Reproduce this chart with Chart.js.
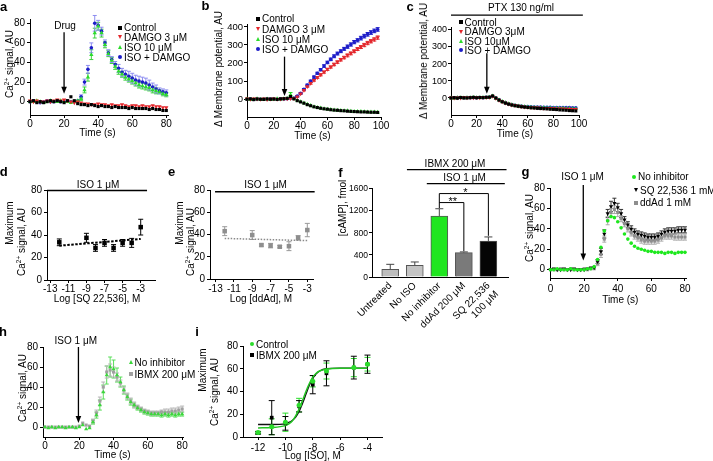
<!DOCTYPE html>
<html>
<head>
<meta charset="utf-8">
<script src="https://cdn.jsdelivr.net/npm/chart.js@4.4.1/dist/chart.umd.min.js"></script>
<style>
  body { margin: 0; width: 713px; height: 461px; position: relative; overflow: hidden; background: #fff;
         font-family: "Liberation Sans", Arial, sans-serif; color: #000; }
  canvas { position: absolute; z-index: 1; }
  .t { position: absolute; z-index: 2; font-size: 10px; line-height: 1; white-space: nowrap; transform: translate(-50%, -50%); }
  .l { transform: translate(0, -50%); }
  .r { transform: translate(-100%, -50%); z-index: 3; }
  .v { transform: translate(-50%, -50%) rotate(-90deg); }
  .p { font-weight: bold; font-size: 13px; }
  .s { font-size: 11px; }
  sup { font-size: 6.5px; line-height: 0; vertical-align: 4px; }
  .m { display: inline-block; vertical-align: middle; margin-right: 2px; position: relative; top: -1px; }
  .sq { width: 4px; height: 4px; background: currentColor; }
  .ci { width: 4px; height: 4px; border-radius: 50%; background: currentColor; }
  .tu { width: 0; height: 0; border-left: 2.5px solid transparent; border-right: 2.5px solid transparent; border-bottom: 4px solid currentColor; }
  .td { width: 0; height: 0; border-left: 2.5px solid transparent; border-right: 2.5px solid transparent; border-top: 4px solid currentColor; }
</style>
</head>
<body>
<!-- panel letters -->
<div class="t p" style="left:3.5px;top:5.5px">a</div>
<div class="t p" style="left:205.5px;top:5px">b</div>
<div class="t p" style="left:410px;top:5.5px">c</div>
<div class="t p" style="left:3.7px;top:171px">d</div>
<div class="t p" style="left:171.7px;top:171px">e</div>
<div class="t p" style="left:340.5px;top:172px">f</div>
<div class="t p" style="left:525.5px;top:170.5px">g</div>
<div class="t p" style="left:3px;top:331px">h</div>
<div class="t p" style="left:197px;top:331px">i</div>

<!-- y titles -->
<div class="t v" style="left:9.5px;top:64px">Ca<sup>2+</sup> signal, AU</div>
<div class="t v" style="left:218.5px;top:69px">Δ Membrane potential, AU</div>
<div class="t v" style="left:424px;top:61px">Δ Membrane potential, AU</div>
<div class="t v" style="left:10.3px;top:223px">Maximum</div>
<div class="t v" style="left:21.7px;top:242px">Ca<sup>2+</sup> signal, AU</div>
<div class="t v" style="left:180px;top:223px">Maximum</div>
<div class="t v" style="left:191px;top:242px">Ca<sup>2+</sup> signal, AU</div>
<div class="t v" style="left:343px;top:208px">[cAMP], fmol</div>
<div class="t v" style="left:530.3px;top:228px">Ca<sup>2+</sup> signal, AU</div>
<div class="t v" style="left:22.5px;top:388px">Ca<sup>2+</sup> signal, AU</div>
<div class="t v" style="left:203px;top:370px">Maximum</div>
<div class="t v" style="left:215px;top:392px">Ca<sup>2+</sup> signal, AU</div>

<!-- x titles -->
<div class="t" style="left:97.5px;top:133px">Time (s)</div>
<div class="t" style="left:312.5px;top:135.5px">Time (s)</div>
<div class="t" style="left:515px;top:133.7px">Time (s)</div>
<div class="t" style="left:97px;top:299px">Log [SQ 22,536], M</div>
<div class="t" style="left:261px;top:299px">Log [ddAd], M</div>
<div class="t" style="left:620.3px;top:300.3px">Time (s)</div>
<div class="t" style="left:112.5px;top:455px">Time (s)</div>
<div class="t" style="left:312.8px;top:455.5px">Log [ISO], M</div>

<!-- headers and notes -->
<div class="t" style="left:65px;top:25.5px">Drug</div>
<div class="t" style="left:521px;top:7.5px">PTX 130 ng/ml</div>
<div class="t" style="left:98px;top:184.5px">ISO 1 μM</div>
<div class="t" style="left:265.5px;top:184.5px">ISO 1 μM</div>
<div class="t" style="left:455px;top:164px">IBMX 200 μM</div>
<div class="t" style="left:464.5px;top:178.3px">ISO 1 μM</div>
<div class="t" style="left:582.5px;top:177px">ISO 1 μM</div>
<div class="t" style="left:75.8px;top:341.2px">ISO 1 μM</div>
<div class="t s" style="left:452.8px;top:201px">**</div>
<div class="t s" style="left:465.3px;top:192px">*</div>

<!-- legends -->
<div class="t l" style="left:118px;top:28.3px"><i class="m sq" style="color:#000"></i>Control</div>
<div class="t l" style="left:118px;top:37.7px"><i class="m td" style="color:#e3262b"></i>DAMGO 3 μM</div>
<div class="t l" style="left:118px;top:47.7px"><i class="m tu" style="color:#2bdc2b"></i>ISO 10 μM</div>
<div class="t l" style="left:118px;top:57.7px"><i class="m ci" style="color:#1c1cc8"></i>ISO + DAMGO</div>

<div class="t l" style="left:256px;top:19.3px"><i class="m sq" style="color:#000"></i>Control</div>
<div class="t l" style="left:256px;top:30px"><i class="m td" style="color:#e3262b"></i>DAMGO 3 μM</div>
<div class="t l" style="left:256px;top:40px"><i class="m tu" style="color:#2bdc2b"></i>ISO 10 μM</div>
<div class="t l" style="left:256px;top:50px"><i class="m ci" style="color:#1c1cc8"></i>ISO + DAMGO</div>

<div class="t l" style="left:458.5px;top:22.7px"><i class="m sq" style="color:#000"></i>Control</div>
<div class="t l" style="left:458.5px;top:32.3px"><i class="m td" style="color:#e3262b"></i>DAMGO 3μM</div>
<div class="t l" style="left:458.5px;top:41.7px"><i class="m tu" style="color:#2bdc2b"></i>ISO 10μM</div>
<div class="t l" style="left:458.5px;top:51px"><i class="m ci" style="color:#1c1cc8"></i>ISO + DAMGO</div>

<div class="t l" style="left:632px;top:177.3px"><i class="m ci" style="color:#1ee81e"></i>No inhibitor</div>
<div class="t l" style="left:634px;top:190.7px"><i class="m td" style="color:#000"></i>SQ 22,536 1 mM</div>
<div class="t l" style="left:634px;top:203.3px"><i class="m sq" style="color:#8e8e8e"></i>ddAd 1 mM</div>

<div class="t l" style="left:128.5px;top:362.7px"><i class="m tu" style="color:#3ad83a"></i>No inhibitor</div>
<div class="t l" style="left:128.5px;top:375px"><i class="m sq" style="color:#a0a0a0"></i>IBMX 200 μM</div>

<div class="t l" style="left:250px;top:345px"><i class="m ci" style="color:#2bdc2b"></i>Control</div>
<div class="t l" style="left:250px;top:356px"><i class="m sq" style="color:#000"></i>IBMX 200 μM</div>

<!-- y tick labels of the wide-number axes (b, c, f) -->
<div class="t r" style="left:243px;top:99.2px;font-size:9.5px">0</div>
<div class="t r" style="left:243px;top:81.1px;font-size:9.5px">100</div>
<div class="t r" style="left:243px;top:63px;font-size:9.5px">200</div>
<div class="t r" style="left:243px;top:44.8px;font-size:9.5px">300</div>
<div class="t r" style="left:243px;top:26.7px;font-size:9.5px">400</div>
<div class="t r" style="left:447px;top:98px;font-size:9px">0</div>
<div class="t r" style="left:447px;top:80.7px;font-size:9px">100</div>
<div class="t r" style="left:447px;top:63.5px;font-size:9px">200</div>
<div class="t r" style="left:447px;top:46.3px;font-size:9px">300</div>
<div class="t r" style="left:447px;top:29px;font-size:9px">400</div>
<div class="t r" style="left:368px;top:277px;font-size:8.5px">0</div>
<div class="t r" style="left:368px;top:254.8px;font-size:8.5px">400</div>
<div class="t r" style="left:368px;top:232.5px;font-size:8.5px">800</div>
<div class="t r" style="left:368px;top:210.3px;font-size:8.5px">1200</div>
<div class="t r" style="left:368px;top:188px;font-size:8.5px">1600</div>

<script>
// ---- data ----
const T_80 = [0,2,4,6,8,10,12,14,16,18,20,22,24,26,28,30,32,34,36,38,40,42,44,46,48,50,52,54,56,58,60,62,64,66,68,70,72,74,76,78,80];
const T_100 = [0,2.5,5,7.5,10,12.5,15,17.5,20,22.5,25,27.5,30,32.5,35,37.5,40,42.5,45,47.5,50,52.5,55,57.5,60,62.5,65,67.5,70,72.5,75,77.5,80,82.5,85,87.5,90,92.5,95,97.5];

// a: Ca2+ signal vs time
const A_CONTROL = [0,1,-1,0,-1,0,1,0,1,0,-1,1,5,1,-2,-3,-3,-4,-3,-4,-5,-4,-5,-5,-6,-5,-6,-6,-6,-7,-6,-7,-7,-7,-7,-8,-7,-8,-8,-9,-9];
const A_DAMGO = [1,0,1,0,0,1,0,1,2,1,2,1,0,-1,0,-1,-2,-2,-3,-3,-2,-3,-3,-4,-3,-4,-4,-3,-4,-5,-4,-4,-5,-4,-5,-5,-4,-5,-5,-6,-6];
const A_ISO = [0,0,1,0,-1,0,1,0,0,1,0,0,-1,0,1,3,12,25,48,70,77,70,58,49,42,36,31,28,25,23,21,19,17,16,15,14,12,11,10,8,7];
const A_ISO_ERR = [0,0,0,0,0,0,0,0,0,0,0,0,0,0,0,2,3,4,5,5,4,4,3,3,3,3,3,3,3,3,3,3,3,3,3,3,3,3,2,2,2];
const A_BOTH = [0,1,0,-1,0,1,0,0,1,0,0,1,0,0,1,5,20,33,55,80,78,72,60,50,43,38,34,30,28,26,24,22,21,20,19,17,15,13,11,10,9];
const A_BOTH_ERR = [0,0,0,0,0,0,0,0,0,0,0,0,0,0,0,2,3,4,5,8,5,4,3,3,3,3,4,4,4,5,5,5,5,5,5,5,4,4,3,3,3];

// b: membrane potential
const B_CONTROL = [0,2,-2,1,0,-1,2,0,1,-1,2,3,5,15,2,-8,-15,-22,-30,-36,-42,-46,-50,-53,-55,-58,-60,-61,-63,-64,-66,-67,-68,-69,-70,-70,-71,-72,-72,-73];
const B_DAMGO = [2,0,3,1,0,2,-1,1,2,0,1,3,2,4,4,14,30,50,70,88,105,120,135,150,165,178,192,205,218,230,242,253,265,277,288,299,310,320,330,340];
const B_DAMGO_ERR = [0,0,0,0,0,0,0,0,0,0,0,0,0,0,2,3,3,4,4,5,5,5,6,6,6,6,7,7,7,7,8,8,8,8,8,9,9,9,9,9];
const B_ISO = [1,-1,0,2,-2,0,1,-1,0,2,0,2,4,25,3,-6,-14,-21,-28,-35,-41,-46,-49,-52,-55,-57,-59,-61,-62,-63,-64,-66,-67,-68,-68,-69,-70,-71,-71,-72];
const B_ISO_ERR = [0,0,0,0,0,0,0,0,0,0,0,0,0,12,0,0,0,0,0,0,0,0,0,0,0,0,0,0,0,0,0,0,0,0,0,0,0,0,0,0];
const B_BOTH = [0,1,-1,2,0,1,0,2,1,0,2,1,3,5,7,17,33,55,78,100,122,143,163,183,203,220,237,252,265,278,290,302,315,325,337,348,358,368,377,385];
const B_BOTH_ERR = [0,0,0,0,0,0,0,0,0,0,0,0,0,0,2,3,4,4,5,5,6,6,6,7,7,7,8,8,8,8,9,9,9,9,10,10,10,10,10,10];

// c: membrane potential with PTX
const C_CONTROL = [0,2,-1,3,1,0,2,4,1,3,2,4,5,12,0,-12,-22,-30,-36,-41,-45,-48,-51,-53,-55,-57,-58,-60,-61,-62,-63,-65,-66,-67,-69,-70,-71,-73,-74,-75];
const C_DAMGO = [1,0,2,0,3,1,2,1,3,2,4,3,4,10,-2,-13,-22,-29,-35,-40,-44,-47,-50,-52,-53,-55,-56,-57,-58,-59,-60,-60,-61,-62,-62,-63,-64,-64,-65,-65];
const C_ISO = [0,-1,1,2,0,2,1,3,2,1,3,2,5,11,-1,-12,-21,-28,-34,-39,-43,-46,-49,-51,-52,-54,-55,-56,-57,-57,-58,-58,-59,-59,-60,-60,-61,-61,-62,-62];
const C_BOTH = [1,0,2,1,0,3,2,1,2,3,2,4,4,10,-1,-11,-20,-27,-33,-38,-42,-45,-47,-49,-50,-51,-52,-53,-53,-54,-54,-54,-55,-55,-55,-56,-56,-56,-57,-57];

// d, e: maximum signal vs inhibitor concentration
const LOG_DOSE = [-12,-9,-8,-7,-6,-5,-4,-3];
const D_MAX = [33.5,37.5,28.5,33,28.5,33,33,47];
const D_ERR = [3,4,3,3,3,3,4,7];
const E_MAX = [43,39.5,30.5,30,29,29.5,37,44];
const E_ERR = [4,4,1,2,1,4,2,6];
const FIT_ENDS = [-12,-3];
const D_FIT = [30.5,36.5];
const E_FIT = [36.5,34.5];

// f: cAMP
const F_CATS = ['Untreated','No ISO','No inhibitor','ddAd 200 μM',['SQ 22,536','100 μM']];
const F_VALS = [138,210,1097,439,648];
const F_ERR = [90,60,130,12,72];
const F_COLORS = ['#bdbdbd','#c4c4c4','#1fe61f','#7a7a7a','#050505'];

// g: inhibitors
const G_NONE = [0,0,1,0,0,0,1,0,0,0,0,1,1,3,10,22,38,48,52,51,47,41,35,30,26,23,21,20,19,18,18,17,17,17,16,17,17,16,17,17,17];
const G_SQ = [0,1,0,0,1,0,0,1,0,0,0,1,2,2,8,18,35,55,62,65,61,55,49,44,40,37,35,34,33,32,32,32,33,35,37,38,38,38,39,39,39];
const G_SQ_ERR = [0,0,0,0,0,0,0,0,0,0,0,0,0,0,2,3,4,4,5,5,4,4,3,3,3,3,3,3,3,3,3,3,3,3,3,3,3,3,3,3,3];
const G_DDAD = [0,0,0,1,0,0,1,0,0,0,1,0,1,1,6,15,30,48,56,59,56,50,45,40,36,33,31,29,28,28,28,28,29,31,33,33,33,32,32,32,32];
const G_DDAD_ERR = [0,0,0,0,0,0,0,0,0,0,0,0,0,0,2,3,3,4,4,4,4,3,3,3,3,3,3,3,3,3,3,3,3,3,3,3,3,3,3,3,3];

// h: IBMX
const H_NONE = [0,-1,0,-1,0,0,-1,0,0,-1,0,2,-2,-1,5,12,22,35,52,60,58,52,45,37,30,25,22,19,17,15,14,13,13,13,12,13,12,13,12,13,13];
const H_NONE_ERR = [0,0,0,0,0,0,0,0,0,0,0,0,0,0,2,3,5,7,9,10,9,7,5,4,3,3,2,2,2,2,2,2,2,2,2,2,2,2,2,2,2];
const H_IBMX = [0,0,0,0,0,0,0,0,0,0,1,4,2,1,6,14,26,40,55,57,55,50,44,37,31,26,22,20,18,16,15,14,14,14,15,15,15,16,16,17,18];
const H_IBMX_ERR = [0,0,0,0,0,0,0,0,0,0,0,0,0,0,2,3,4,5,6,6,5,4,3,3,3,3,3,2,2,2,2,2,2,2,2,3,3,3,3,3,3];

// i: ISO dose response
const I_X = [-12,-11,-10,-9,-8,-7,-5,-4];
const I_CTRL = [4,9,13,28,49,58,61,64];
const I_CTRL_ERR = [1,7,8,6,5,7,8,6];
const I_IBMX = [3.5,17,12,27,46,56,61,64];
const I_IBMX_ERR = [1,15,6,5,8,11,10,8];
const I_FIT_X = [-12,-11,-10,-9.75,-9.5,-9.25,-9,-8.75,-8.5,-8.25,-8,-7.75,-7.5,-7,-6,-5,-4];
const I_CTRL_FIT = [8,8.3,10,11.5,14,18.5,24.5,32,40,47,52.5,56,58,59.8,60.5,60.5,60.5];
const I_IBMX_FIT = [11,11,11.8,12.8,14.5,17.5,22.5,29.5,37.5,45.5,51.5,55.5,58,60,60.5,60.5,60.5];

const TICKS_80 = [0,20,40,60,80];
const TICKS_100 = [0,20,40,60,80,100];
const TICKS_MV = [0,100,200,300,400];
const TICKS_LOG_ODD = [-13,-11,-9,-7,-5,-3];
const TICKS_LOG_EVEN = [-12,-10,-8,-6,-4];
const TICKS_CAMP = [0,400,800,1200,1600];

const RED = '#e3262b', GREEN = '#2bdc2b', BLUE = '#1c1cc8', GRAY = '#8e8e8e';

// ---- chart setup ----
Chart.defaults.font.family = '"Liberation Sans", Arial, sans-serif';
Chart.defaults.font.size = 10;
Chart.defaults.color = '#000';
Chart.defaults.animation = false;
Chart.defaults.events = [];
Chart.defaults.plugins.legend.display = false;
Chart.defaults.plugins.tooltip.enabled = false;

function drawErr(chart, onTop) {
  const { ctx, scales: { x, y } } = chart;
  chart.data.datasets.forEach((ds) => {
    if (!ds.err || !!ds.upOnly !== onTop) return;
    ctx.save();
    ctx.strokeStyle = ds.errColor || ds.borderColor;
    ctx.lineWidth = 1;
    const c = ds.cap == null ? 2 : ds.cap;
    ds.data.forEach((p, i) => {
      const e = ds.err[i];
      if (!e) return;
      const px = x.getPixelForValue(p.x);
      const hi = y.getPixelForValue(p.y + e);
      const lo = y.getPixelForValue(ds.upOnly ? p.y : p.y - e);
      ctx.beginPath();
      ctx.moveTo(px, lo); ctx.lineTo(px, hi);
      ctx.moveTo(px - c, hi); ctx.lineTo(px + c, hi);
      if (!ds.upOnly) { ctx.moveTo(px - c, lo); ctx.lineTo(px + c, lo); }
      ctx.stroke();
    });
    ctx.restore();
  });
}

// error bars, arrows, header bars and brackets, all placed through the scales
const marks = {
  id: 'marks',
  beforeDatasetsDraw(chart) { drawErr(chart, false); },
  afterDatasetsDraw(chart, args, opts) {
    drawErr(chart, true);
    const { ctx, scales: { x, y } } = chart;
    ctx.save();
    ctx.strokeStyle = '#000'; ctx.fillStyle = '#000';
    for (const ln of opts.lines || []) {
      ctx.lineWidth = ln.w || 1;
      ctx.beginPath();
      ln.pts.forEach(([a, b], i) => {
        const px = x.getPixelForValue(a), py = y.getPixelForValue(b);
        if (i) ctx.lineTo(px, py); else ctx.moveTo(px, py);
      });
      ctx.stroke();
    }
    for (const a of opts.arrows || []) {
      const px = x.getPixelForValue(a.x), y0 = y.getPixelForValue(a.y0), y1 = y.getPixelForValue(a.y1);
      ctx.lineWidth = 1.3;
      ctx.beginPath(); ctx.moveTo(px, y0); ctx.lineTo(px, y1 - 5); ctx.stroke();
      ctx.beginPath(); ctx.moveTo(px, y1); ctx.lineTo(px - 2.8, y1 - 7); ctx.lineTo(px + 2.8, y1 - 7); ctx.closePath(); ctx.fill();
    }
    ctx.restore();
  },
};

function axis(min, max, ticks, pad, size) {
  return {
    type: 'linear', min, max,
    afterBuildTicks: (s) => { s.ticks = ticks.map((v) => ({ value: v })); },
    grid: { drawOnChartArea: false, drawTicks: true, tickLength: 3, tickColor: '#000', tickWidth: 1 },
    border: { display: true, color: '#000', width: 1 },
    ticks: { padding: pad, autoSkip: false, maxRotation: 0, minRotation: 0, color: '#000',
      font: { size: size || 10 }, callback: (v) => String(v) },
  };
}

// y axis that keeps its tick marks; its labels are the page text next to it
function quietAxis(min, max, ticks) {
  const a = axis(min, max, ticks, 1);
  a.ticks.display = false;
  return a;
}

function pts(xs, ys) { return xs.map((x, i) => ({ x, y: ys[i] })); }

function series(xs, ys, color, style, r, extra) {
  return Object.assign({ data: pts(xs, ys), pointStyle: style, pointRadius: r, backgroundColor: color,
    borderColor: color, borderWidth: 0, clip: false }, extra || {});
}

function fitLine(xs, ys, color, width, extra) {
  return Object.assign({ data: pts(xs, ys), showLine: true, pointRadius: 0, borderColor: color,
    borderWidth: width, clip: false }, extra || {});
}

// box = plot area [left, top, right, bottom] in page pixels
function panel(box, type, datasets, x, y, notes, xh) {
  const [l, t, r, b] = box.map(Math.round);
  const yw = Math.min(40, l), pt = 30, pr = 16;
  xh = xh || 22;
  const W = r - l + yw + pr, H = b - t + pt + xh;
  const cv = document.createElement('canvas');
  cv.width = W; cv.height = H;
  cv.style.cssText = `left:${l - yw}px;top:${t - pt}px;width:${W}px;height:${H}px`;
  document.body.appendChild(cv);
  x.afterFit = (s) => { s.height = xh; };
  y.afterFit = (s) => { s.width = yw; };
  new Chart(cv, {
    type,
    data: { datasets },
    options: {
      responsive: false, maintainAspectRatio: false,
      layout: { padding: { left: 0, top: pt, right: pr, bottom: 0 } },
      scales: { x, y },
      plugins: { marks: notes || {} },
    },
    plugins: [marks],
  });
}

const DOWN = { pointRotation: 180 };

// a
panel([30, 19, 168, 115], 'scatter', [
  series(T_80, A_CONTROL, '#000', 'rect', 2.2),
  series(T_80, A_DAMGO, RED, 'triangle', 2.5, DOWN),
  series(T_80, A_ISO, GREEN, 'triangle', 2.5, { err: A_ISO_ERR, errColor: '#3bd23b' }),
  series(T_80, A_BOTH, BLUE, 'circle', 1.8, { err: A_BOTH_ERR, errColor: '#8c8cf0' }),
], axis(0, 81, TICKS_80, 0), axis(-13.6, 84.4, TICKS_80, 2), { arrows: [{ x: 20, y0: 71, y1: 8 }] });

// b
panel([246.7, 24, 381, 116.7], 'scatter', [
  series(T_100, B_CONTROL, '#000', 'rect', 2.2),
  series(T_100, B_DAMGO, RED, 'triangle', 2.5, Object.assign({ err: B_DAMGO_ERR }, DOWN)),
  series(T_100, B_ISO, GREEN, 'triangle', 2.5, { err: B_ISO_ERR }),
  series(T_100, B_BOTH, BLUE, 'circle', 1.8, { err: B_BOTH_ERR }),
], axis(0, 100, TICKS_100, 0), quietAxis(-98, 415, TICKS_MV), { arrows: [{ x: 28, y0: 235, y1: 18 }] });

// c
panel([451, 27, 579, 115], 'scatter', [
  series(T_100, C_CONTROL, '#000', 'rect', 2.2),
  series(T_100, C_DAMGO, RED, 'triangle', 2.5, DOWN),
  series(T_100, C_ISO, GREEN, 'triangle', 2.5),
  series(T_100, C_BOTH, BLUE, 'circle', 1.8),
], axis(0, 100, TICKS_100, 0), quietAxis(-98.6, 411.6, TICKS_MV), {
  arrows: [{ x: 28, y0: 260, y1: 25 }],
  lines: [{ pts: [[0, 481], [103, 481]], w: 1.3 }],
});

// d
panel([46.7, 190, 155, 280], 'scatter', [
  series(LOG_DOSE, D_MAX, '#000', 'rect', 3.2, { err: D_ERR, cap: 2.5 }),
  fitLine(FIT_ENDS, D_FIT, '#000', 2, { borderDash: [2.5, 1.5] }),
], axis(-13.36, -1.42, TICKS_LOG_ODD, 0), axis(0, 80, TICKS_80, 2), {
  lines: [{ pts: [[-13.36, 79.5], [-2.3, 79.5]], w: 1.5 }],
});

// e
panel([210, 189.5, 313, 279], 'scatter', [
  series(LOG_DOSE, E_MAX, GRAY, 'rect', 3.2, { err: E_ERR, cap: 2.5, errColor: '#999' }),
  fitLine(FIT_ENDS, E_FIT, '#8a8a8a', 1.5, { borderDash: [1.5, 1.5] }),
], axis(-13.6, -2.38, TICKS_LOG_ODD, 1), axis(0, 80, TICKS_80, 2), {
  lines: [{ pts: [[-13.05, 78.5], [-2.2, 78.5]], w: 1.5 }],
});

// f
const fx = axis(-0.744, 4.8, F_CATS.map((c, i) => i), 3);
fx.offset = false;
fx.grid = { drawOnChartArea: false, drawTicks: false, offset: false };
fx.ticks = { padding: 3, autoSkip: false, minRotation: 45, maxRotation: 45, color: '#000', callback: (v) => F_CATS[v] };
panel([371.7, 187.7, 508, 276.7], 'bar', [{
  data: pts(F_CATS.map((c, i) => i), F_VALS),
  backgroundColor: F_COLORS, borderColor: '#555', borderWidth: 1, barThickness: 17,
  err: F_ERR, upOnly: true, errColor: '#444', cap: 4, clip: false,
}], fx, quietAxis(0, 1600, TICKS_CAMP), {
  lines: [
    { pts: [[0.68, 1932], [4.74, 1932]], w: 1.3 },
    { pts: [[1.49, 1680], [4.67, 1680]], w: 1.3 },
    { pts: [[2, 1240], [2, 1500], [4, 1500], [4, 740]], w: 1 },
    { pts: [[2, 1338], [3, 1338], [3, 465]], w: 1 },
  ],
}, 62);

// g
panel([549.5, 188.3, 686, 278.3], 'scatter', [
  series(T_80, G_NONE, '#1ee81e', 'circle', 1.8),
  series(T_80, G_SQ, '#000', 'triangle', 2.4, Object.assign({ err: G_SQ_ERR, errColor: '#333' }, DOWN)),
  series(T_80, G_DDAD, GRAY, 'rect', 2.2, { err: G_DDAD_ERR, errColor: '#aaa' }),
], axis(-0.3, 80.6, TICKS_80, 2), axis(-8.1, 80, TICKS_80, 2), { arrows: [{ x: 19.5, y0: 83, y1: 9 }] });

// h
panel([43, 346.7, 182.5, 437.3], 'scatter', [
  series(T_80, H_NONE, '#3ad83a', 'triangle', 2.4, { err: H_NONE_ERR, errColor: '#5ade5a' }),
  series(T_80, H_IBMX, '#a0a0a0', 'rect', 2.2, { err: H_IBMX_ERR, errColor: '#b5b5b5' }),
], axis(-1.17, 80.5, TICKS_80, 0), axis(-9.9, 80, TICKS_80, 2), { arrows: [{ x: 19.5, y0: 80, y1: 4 }] });

// i
panel([243.3, 345.7, 381.7, 436.7], 'scatter', [
  series(I_X, I_CTRL, GREEN, 'circle', 2.5, { err: I_CTRL_ERR, cap: 3 }),
  series(I_X, I_IBMX, '#000', 'rect', 2.6, { err: I_IBMX_ERR, cap: 3 }),
  fitLine(I_FIT_X, I_CTRL_FIT, '#22c422', 1.5, { cubicInterpolationMode: 'monotone' }),
  fitLine(I_FIT_X, I_IBMX_FIT, '#111', 1.3, { cubicInterpolationMode: 'monotone' }),
], axis(-13.1, -2.94, TICKS_LOG_EVEN, 2), axis(0, 80, TICKS_80, 2));
</script>
</body>
</html>
